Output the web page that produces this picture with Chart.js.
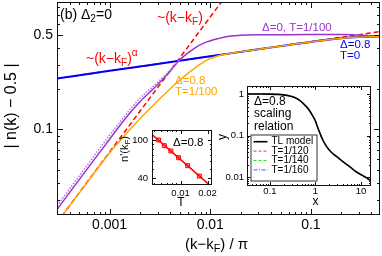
<!DOCTYPE html>
<html><head><meta charset="utf-8">
<script src="https://cdn.jsdelivr.net/npm/chart.js@4.4.1/dist/chart.umd.min.js"></script>
<style>
html,body{margin:0;padding:0;background:#fff;}
#wrap{position:relative;width:382px;height:256px;overflow:hidden;background:#fff;}
canvas{position:absolute;}
</style></head><body>
<div id="wrap">
<canvas id="main" width="382" height="256" style="left:0;top:0;width:382px;height:256px"></canvas>
<canvas id="in1" width="106" height="85" style="left:112px;top:125px;width:106px;height:85px"></canvas>
<canvas id="in2" width="164" height="126" style="left:218px;top:82px;width:164px;height:126px"></canvas>
</div>
<script>
// ---------- main panel data: |n(k)-0.5| vs (k-kF)/pi ----------
const kLinear = [0.0003, 0.015];
const yLinear = [0.0204, 1.02];
const kAlpha = [0.0003, 0.5];
const yAlpha = [0.238, 0.531];
const kBlue = [0.0003, 0.001, 0.003, 0.01, 0.03, 0.06, 0.1, 0.14, 0.2, 0.3, 0.4, 0.5];
const yBlue = [0.238, 0.2713, 0.3055, 0.3478, 0.3917, 0.4221, 0.443, 0.46, 0.474, 0.483, 0.486, 0.487];
const kOrange = [0.0003, 0.0006, 0.001, 0.00134, 0.002, 0.00282, 0.00415, 0.00608, 0.00873, 0.0128, 0.02, 0.03, 0.06, 0.1, 0.14, 0.2, 0.3, 0.4, 0.5];
const yOrange = [0.0204, 0.0405, 0.067, 0.0865, 0.120, 0.155, 0.205, 0.262, 0.318, 0.355, 0.375, 0.3917, 0.4221, 0.443, 0.46, 0.474, 0.483, 0.486, 0.487];
const kPurple = [0.0003, 0.0006, 0.001, 0.00134, 0.002, 0.00282, 0.004, 0.00497, 0.007, 0.00873, 0.012, 0.01607, 0.0201, 0.03, 0.05, 0.1, 0.2, 0.3, 0.4, 0.5];
const yPurple = [0.0255, 0.051, 0.0845, 0.113, 0.160, 0.205, 0.27, 0.327, 0.40, 0.437, 0.470, 0.491, 0.498, 0.502, 0.503, 0.504, 0.505, 0.500, 0.494, 0.490];
const kPurpleDot = [0.0003, 0.0006, 0.001, 0.002, 0.00282, 0.004, 0.00497];
const yPurpleDot = [0.0272, 0.0543, 0.0905, 0.170, 0.214, 0.275, 0.330];

// ---------- inset 1: n'(kF) vs T ----------
const tSquares = [0.0057, 0.0066, 0.0078, 0.0095, 0.012, 0.0162];
const nSquares = [100, 87.3, 76.9, 65.5, 54.1, 42.2];
const tFit = [0.0045, 0.024];
const nFit = [120.7, 30.6];

// ---------- inset 2: scaling relation ----------
const xScal = [0.0313, 0.06, 0.1, 0.15, 0.2, 0.275, 0.35, 0.45, 0.55, 0.64, 0.75, 0.85, 0.975, 1.1, 1.256, 1.45, 1.76, 2.2, 2.92, 4, 5.73, 8, 11, 16.6];
const yTL   = [1.0, 1.0, 0.995, 0.98, 0.955, 0.895, 0.82, 0.70, 0.58, 0.49, 0.39, 0.31, 0.236, 0.165, 0.113, 0.078, 0.054, 0.040, 0.031, 0.0235, 0.0175, 0.0132, 0.0108, 0.0082];
const yT120 = [1.0, 1.0, 0.994, 0.98, 0.954, 0.894, 0.82, 0.70, 0.58, 0.49, 0.39, 0.31, 0.236, 0.165, 0.113, 0.078, 0.054, 0.040, 0.031, 0.0234, 0.0173, 0.0129, 0.0104, 0.0078];
const yT140 = [1.0, 1.0, 0.994, 0.98, 0.955, 0.895, 0.82, 0.70, 0.58, 0.49, 0.39, 0.31, 0.236, 0.165, 0.113, 0.078, 0.054, 0.040, 0.031, 0.0233, 0.0174, 0.0130, 0.0106, 0.0080];
const yT160 = [1.0, 1.0, 0.995, 0.98, 0.955, 0.895, 0.82, 0.70, 0.58, 0.49, 0.39, 0.31, 0.236, 0.165, 0.113, 0.078, 0.054, 0.040, 0.031, 0.0235, 0.0175, 0.0131, 0.0107, 0.0081];

// ---------- tick labels ----------
const mainXTickLabels = [0.001, 0.01, 0.1];
const mainYTickLabels = [0.1, 0.5];
const in1XTickLabels = [0.01, 0.02];
const in1YTickLabels = [40, 100];
const in2XTickLabels = [0.1, 1, 10];
const in2YTickLabels = [0.01, 0.1, 1];

const FONT = '"Liberation Sans", Arial, Helvetica, sans-serif';
const RED = '#ff0000', BLUE = '#0000ff', ORANGE = '#ffa500', PURPLE = '#9933cc';

function logTicks(min, max) {
  const out = [];
  for (let e = Math.floor(Math.log10(min)) - 1; e <= Math.ceil(Math.log10(max)); e++) {
    for (let m = 1; m < 10; m++) {
      const v = parseFloat((m * Math.pow(10, e)).toPrecision(6));
      if (v >= min * 0.9999 && v <= max * 1.0001) out.push(v);
    }
  }
  return out;
}
function pts(xs, ys) { return xs.map((x, i) => ({x: x, y: ys[i]})); }

function axis(min, max, labels, fontSize, pad, fitProp, fitVal) {
  return {
    type: 'logarithmic', min: min, max: max,
    grid: {display: false, drawTicks: false}, border: {display: false},
    afterBuildTicks: s => { s.ticks = logTicks(min, max).map(v => ({value: v})); },
    afterFit: s => {
      s[fitProp] = fitVal;
      s.paddingTop = 0; s.paddingBottom = 0; s.paddingLeft = 0; s.paddingRight = 0;
    },
    ticks: {autoSkip: false, maxRotation: 0, minRotation: 0, padding: pad, color: '#000',
      font: {family: FONT, size: fontSize},
      callback: v => labels.includes(v) ? String(v) : ''}
  };
}

const framePlugin = {
  id: 'frame',
  afterDatasetsDraw(chart, args, o) {
    const ctx = chart.ctx, a = chart.chartArea, x = chart.scales.x, y = chart.scales.y;
    ctx.save();
    ctx.strokeStyle = o.color || '#000';
    ctx.lineWidth = 1;
    ctx.beginPath();
    for (const t of x.ticks) {
      const px = Math.round(x.getPixelForValue(t.value)) + 0.5;
      if (px < a.left + 1 || px > a.right - 1) continue;
      const L = o.xMajor.includes(t.value) ? o.major : o.minor;
      ctx.moveTo(px, a.bottom); ctx.lineTo(px, a.bottom - L);
      ctx.moveTo(px, a.top); ctx.lineTo(px, a.top + L);
    }
    for (const t of y.ticks) {
      const py = Math.round(y.getPixelForValue(t.value)) + 0.5;
      if (py < a.top + 1 || py > a.bottom - 1) continue;
      const L = o.yMajor.includes(t.value) ? o.major : o.minor;
      ctx.moveTo(a.left, py); ctx.lineTo(a.left + L, py);
      ctx.moveTo(a.right, py); ctx.lineTo(a.right - L, py);
    }
    ctx.stroke();
    ctx.strokeRect(a.left + 0.5, a.top + 0.5, a.right - a.left - 1, a.bottom - a.top - 1);
    ctx.restore();
  }
};

function richText(ctx, it) {
  const size = it.size;
  ctx.save();
  ctx.fillStyle = it.color;
  ctx.textBaseline = 'middle';
  ctx.textAlign = 'left';
  let w = 0;
  for (const p of it.parts) {
    const s = p[1] ? size * 0.72 : size;
    ctx.font = s + 'px ' + FONT;
    w += ctx.measureText(p[0]).width;
  }
  ctx.translate(it.x, it.y);
  if (it.rotate) ctx.rotate(-Math.PI / 2);
  let cx = it.align === 'center' ? -w / 2 : 0;
  for (const p of it.parts) {
    const s = p[1] ? size * 0.72 : size;
    ctx.font = s + 'px ' + FONT;
    const dy = p[1] === 'sub' ? size * 0.3 : (p[1] === 'sup' ? -size * 0.42 : 0);
    ctx.fillText(p[0], cx, dy);
    cx += ctx.measureText(p[0]).width;
  }
  ctx.restore();
}
const notesPlugin = {
  id: 'notes',
  afterDraw(chart, args, o) { for (const it of (o.items || [])) richText(chart.ctx, it); }
};

const legendBoxPlugin = {
  id: 'legendBox',
  afterDraw(chart, args, o) {
    const ctx = chart.ctx;
    ctx.save();
    ctx.fillStyle = '#fff';
    ctx.fillRect(o.x, o.y, o.w, o.h);
    ctx.strokeStyle = '#333'; ctx.lineWidth = 1;
    ctx.strokeRect(o.x + 0.5, o.y + 0.5, o.w, o.h);
    ctx.font = o.size + 'px ' + FONT;
    ctx.textBaseline = 'middle';
    chart.data.datasets.forEach((d, i) => {
      const yy = o.y + o.first + i * o.step;
      ctx.strokeStyle = d.borderColor;
      ctx.lineWidth = d.borderWidth;
      ctx.setLineDash(d.borderDash || []);
      ctx.beginPath(); ctx.moveTo(o.x + 3, yy); ctx.lineTo(o.x + 17, yy); ctx.stroke();
      ctx.setLineDash([]);
      ctx.fillStyle = '#000';
      ctx.fillText(d.label, o.x + 21, yy);
    });
    ctx.restore();
  }
};

function lineDs(label, data, color, width, dash, extra) {
  return Object.assign({label: label, data: data, borderColor: color, backgroundColor: color,
    borderWidth: width, borderDash: dash || [], pointRadius: 0, fill: false, clip: 0,
    cubicInterpolationMode: 'monotone'}, extra || {});
}

// ---------- main chart ----------
new Chart(document.getElementById('main'), {
  type: 'line',
  data: {datasets: [
    lineDs('Δ=0.8, T=1/100', pts(kOrange, yOrange), ORANGE, 1.5),
    lineDs('Δ=0, T=1/100 (dots)', pts(kPurpleDot, yPurpleDot), '#b070ee', 1.5, [1.5, 1.5]),
    lineDs('Δ=0, T=1/100', pts(kPurple, yPurple), PURPLE, 1.5),
    lineDs('Δ=0.8, T=0', pts(kBlue, yBlue), BLUE, 2),
    lineDs('~(k−kF)^α', pts(kAlpha, yAlpha), RED, 1.5, [5, 3]),
    lineDs('~(k−kF)', pts(kLinear, yLinear), RED, 1.5, [5, 3])
  ]},
  options: {
    responsive: false, animation: false, devicePixelRatio: 1,
    layout: {padding: {left: 0, right: 2, top: 2, bottom: 0}},
    plugins: {
      legend: {display: false}, tooltip: {enabled: false},
      frame: {xMajor: mainXTickLabels, yMajor: mainYTickLabels, major: 6, minor: 3, color: '#111'},
      notes: {items: [
        {x: 60, y: 15, size: 14, color: '#000', parts: [['(b) Δ'], ['2', 'sub'], ['=0']]},
        {x: 157, y: 18, size: 14, color: RED, parts: [['~(k−k'], ['F', 'sub'], [')']]},
        {x: 86, y: 59, size: 14, color: RED, parts: [['~(k−k'], ['F', 'sub'], [')'], ['α', 'sup']]},
        {x: 175, y: 80.5, size: 11.5, color: ORANGE, parts: [['Δ=0.8']]},
        {x: 175, y: 92, size: 11.5, color: ORANGE, parts: [['T=1/100']]},
        {x: 262, y: 28, size: 11.5, color: PURPLE, parts: [['Δ=0, T=1/100']]},
        {x: 340, y: 45, size: 11.5, color: BLUE, parts: [['Δ=0.8']]},
        {x: 340, y: 56, size: 11.5, color: BLUE, parts: [['T=0']]},
        {x: 216.5, y: 245, size: 15, color: '#000', align: 'center', parts: [['(k−k'], ['F', 'sub'], [') / π']]},
        {x: 12, y: 106, size: 16, color: '#000', align: 'center', rotate: true, parts: [['| n(k) − 0.5 |']]}
      ]}
    },
    scales: {
      x: axis(0.00033, 0.486, mainXTickLabels, 14, 2, 'height', 41),
      y: axis(0.0232, 0.878, mainYTickLabels, 14, 4, 'width', 57)
    }
  },
  plugins: [framePlugin, notesPlugin]
});

// ---------- inset 1 ----------
new Chart(document.getElementById('in1'), {
  type: 'line',
  data: {datasets: [
    lineDs('fit', pts(tFit, nFit), RED, 1.5),
    lineDs('data', pts(tSquares, nSquares), RED, 1, [], {showLine: false, pointRadius: 2.8, pointStyle: 'rect',
      pointBorderColor: RED, pointBackgroundColor: '#ff9a9a', pointBorderWidth: 1})
  ]},
  options: {
    responsive: false, animation: false, devicePixelRatio: 1,
    layout: {padding: {left: 0, right: 6, top: 5, bottom: 0}},
    plugins: {
      legend: {display: false}, tooltip: {enabled: false},
      frame: {xMajor: in1XTickLabels, yMajor: in1YTickLabels, major: 4, minor: 2, color: '#111'},
      notes: {items: [
        {x: 61, y: 18, size: 11.5, color: '#000', parts: [['Δ=0.8']]},
        {x: 69, y: 78, size: 12, color: '#000', align: 'center', parts: [['T']]},
        {x: 13, y: 24, size: 11, color: '#000', align: 'center', rotate: true, parts: [["n'(k"], ['F', 'sub'], [')']]}
      ]}
    },
    scales: {
      x: axis(0.00481, 0.0224, in1XTickLabels, 9.5, 2.5, 'height', 25),
      y: axis(34.1, 127, in1YTickLabels, 9.5, 4, 'width', 40)
    }
  },
  plugins: [framePlugin, notesPlugin]
});

// ---------- inset 2 ----------
new Chart(document.getElementById('in2'), {
  type: 'line',
  data: {datasets: [
    lineDs('TL model', pts(xScal, yTL), '#000', 1.6),
    lineDs('T=1/120', pts(xScal, yT120), '#ff3030', 1, [3, 2]),
    lineDs('T=1/140', pts(xScal, yT140), '#30e030', 1, [3, 2]),
    lineDs('T=1/160', pts(xScal, yT160), '#5050ff', 1, [4, 1.5, 1, 1.5])
  ]},
  options: {
    responsive: false, animation: false, devicePixelRatio: 1,
    layout: {padding: {left: 0, right: 11, top: 4, bottom: 0}},
    plugins: {
      legend: {display: false}, tooltip: {enabled: false},
      frame: {xMajor: in2XTickLabels, yMajor: in2YTickLabels, major: 4, minor: 2, color: '#111'},
      legendBox: {x: 32.5, y: 52.5, w: 66, h: 46, first: 7.2, step: 9.4, size: 10},
      notes: {items: [
        {x: 36, y: 20, size: 12, color: '#000', parts: [['Δ=0.8']]},
        {x: 36, y: 32, size: 12, color: '#000', parts: [['scaling']]},
        {x: 36, y: 44.5, size: 12, color: '#000', parts: [['relation']]},
        {x: 97.5, y: 120, size: 12, color: '#000', align: 'center', parts: [['x']]},
        {x: 5, y: 55, size: 12, color: '#000', align: 'center', rotate: true, parts: [['y']]}
      ]}
    },
    scales: {
      x: axis(0.0313, 16.6, in2XTickLabels, 9.5, 0, 'height', 22),
      y: axis(0.00607, 1.56, in2YTickLabels, 9.5, 3, 'width', 29)
    }
  },
  plugins: [framePlugin, legendBoxPlugin, notesPlugin]
});
</script>
</body></html>
